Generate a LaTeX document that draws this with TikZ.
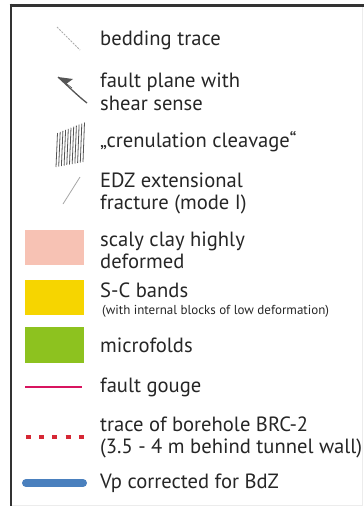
\documentclass[tikz,border=0pt]{standalone}
\usepackage{fontspec}
\setmainfont{PT Sans}
\definecolor{frame}{HTML}{333333}
\definecolor{pinkc}{HTML}{F7C2B4}
\definecolor{yellowc}{HTML}{F6D500}
\definecolor{greenc}{HTML}{8DC21F}
\definecolor{gougec}{HTML}{D8145F}
\definecolor{boreholec}{HTML}{D62835}
\definecolor{bluec}{HTML}{4A80BE}
\definecolor{symc}{HTML}{555555}
\begin{document}
\begin{tikzpicture}[x=1pt,y=-1pt,
  lbl/.style={anchor=base west,inner sep=0pt,font=\fontsize{20.6}{22}\selectfont,text=black!85},
  smalllbl/.style={anchor=base west,inner sep=0pt,font=\fontsize{13}{14}\selectfont,text=black!85},
  swatch/.style={draw=none,minimum width=59pt,minimum height=35pt,inner sep=0pt}]
\useasboundingbox (0,0) rectangle (364,506);
\fill[white] (0,0) rectangle (364,506);
% frame
\draw[gray!15,line width=1pt] (362.5,5) -- (362.5,505.5) -- (11,505.5);
\draw[frame,line width=3pt] (9.5,5) -- (364,5);
\draw[frame,line width=2.5pt] (11,3.5) -- (11,506);
% 1 bedding trace
\coordinate (b1) at (57,27); \coordinate (b2) at (80,50);
\draw[gray!65,line width=0.8pt,dash pattern=on 2pt off 1.2pt] (b1) -- (b2);
\node[lbl] (t1) at (100,45) {bedding trace};
% 2 fault plane
\coordinate (f1) at (58,77); \coordinate (f2) at (87,103);
\draw[symc,line width=1.3pt] (f1) .. controls (70,88) and (78,96) .. (f2);
\fill[symc] (f1) -- (73,79) -- (66,84) -- cycle;
\draw[symc,line width=0.6pt] (62,80) -- (72,88);
\node[lbl] (t2a) at (100,87) {fault plane with};
\node[lbl] (t2b) at (100,110) {shear sense};
% 3 crenulation cleavage
\foreach \i in {0,...,10}{
  \draw[symc,line width=0.8pt] ({57.5+2.7*\i},{133-1.05*\i}) -- ({56+2.7*\i},{167-0.5*\i});
}
\node[lbl] (t3) at (100,147) {„crenulation cleavage“};
% 4 EDZ
\coordinate (e1) at (80,177); \coordinate (e2) at (63,204);
\draw[gray!70,line width=0.8pt] (e1) -- (e2);
\node[lbl] (t4a) at (100,187) {EDZ extensional};
\node[lbl] (t4b) at (100,209) {fracture (mode I)};
% 5 scaly clay
\node[swatch,fill=pinkc,anchor=north west] (s5) at (25,230) {};
\node[lbl] (t5a) at (100,246) {scaly clay highly};
\node[lbl] (t5b) at (100,268) {deformed};
% 6 S-C bands
\node[swatch,fill=yellowc,anchor=north west] (s6) at (25,280) {};
\node[lbl] (t6a) at (100,297) {S-C bands};
\node[smalllbl] (t6b) at (102,314) {(with internal blocks of low deformation)};
% 7 microfolds
\node[swatch,fill=greenc,anchor=north west,minimum height=36pt] (s7) at (25,327) {};
\node[lbl] (t7) at (100,352) {microfolds};
% 8 fault gouge
\coordinate (g1) at (25,387); \coordinate (g2) at (82,387);
\draw[gougec,line width=2.4pt] (g1) -- (g2);
\node[lbl] (t8) at (100,392) {fault gouge};
% 9 borehole
\coordinate (h1) at (26,437); \coordinate (h2) at (84,437);
\draw[boreholec,line width=4.5pt,dash pattern=on 5pt off 8.2pt] (h1) -- (h2);
\node[lbl] (t9a) at (100,431) {trace of borehole BRC-2};
\node[lbl] (t9b) at (100,453) {(3.5 - 4 m behind tunnel wall)};
% 10 Vp
\coordinate (v1) at (26,483); \coordinate (v2) at (83,483);
\draw[bluec,line width=8pt,line cap=round] (v1) -- (v2);
\node[lbl] (t10) at (100,488) {Vp corrected for BdZ};
\end{tikzpicture}
\end{document}
